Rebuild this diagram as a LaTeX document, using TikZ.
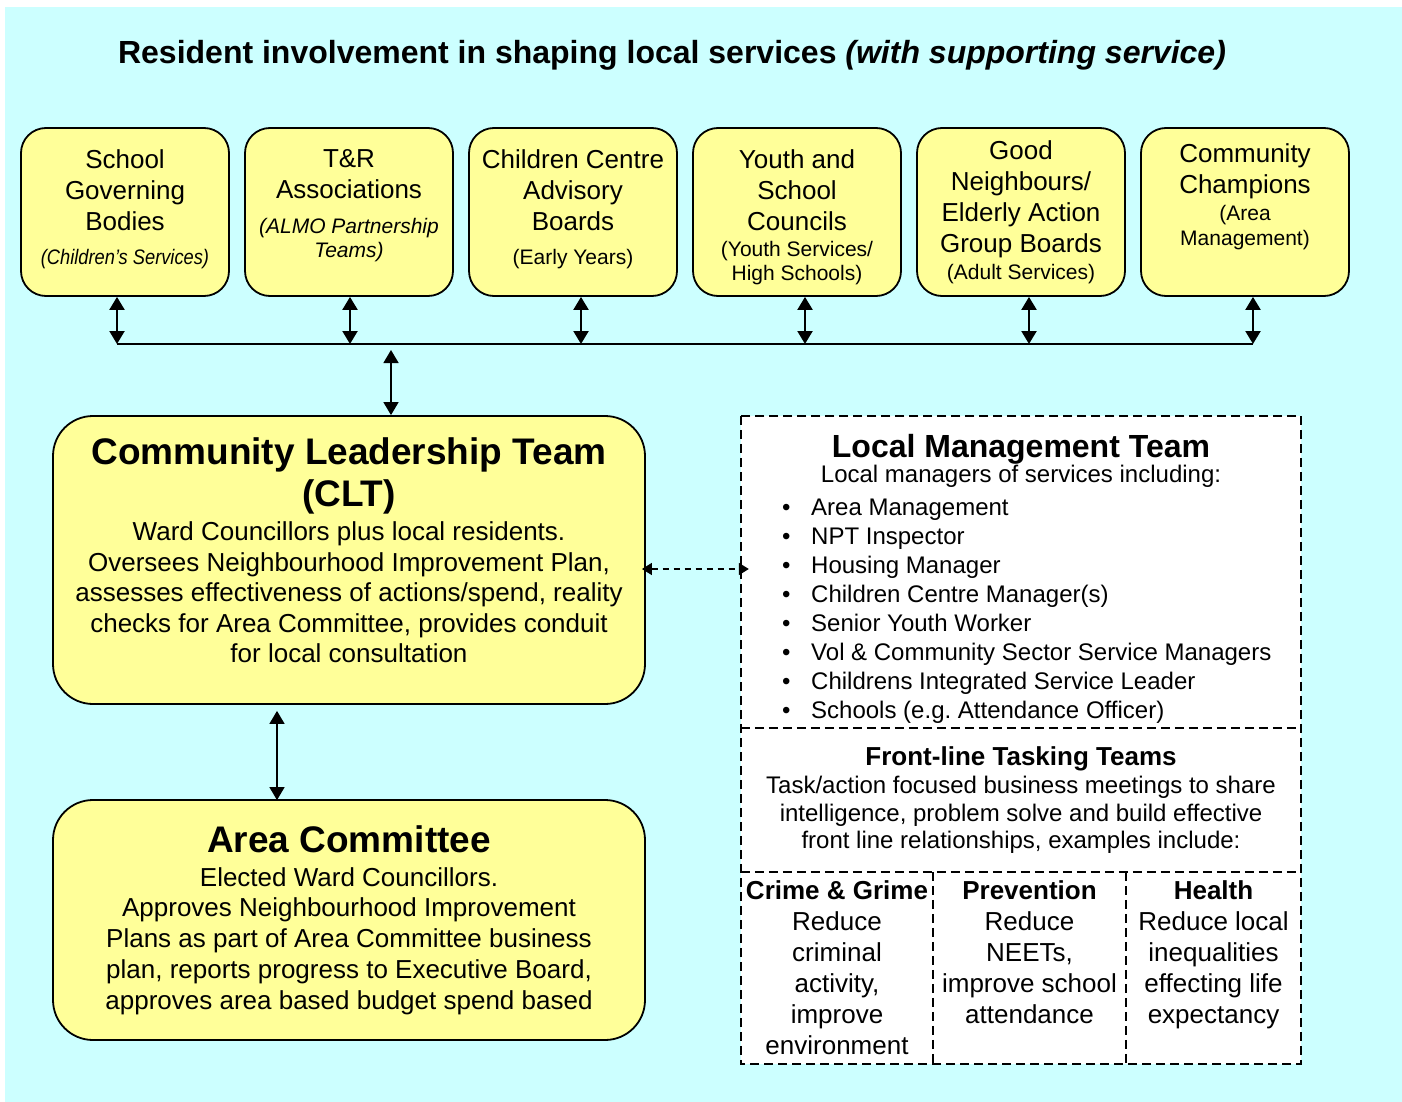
\documentclass[tikz,border=0pt]{standalone}
\usepackage{fontspec}
\setmainfont{Liberation Sans}
\newfontfamily\narrowfont[FakeStretch=0.87]{Liberation Sans}
\usepackage{tikz}
\usetikzlibrary{arrows.meta,positioning}
\definecolor{skyback}{RGB}{204,255,255}
\definecolor{boxyellow}{RGB}{255,255,153}
\frenchspacing
\newcommand{\subtxt}{\fontsize{21}{24}\selectfont}
\newcommand{\boxnote}[2][0pt]{\par\vspace{#1}{\subtxt #2\par}}
\newcommand{\lmtitem}[1]{\makebox[29pt][l]{\textbullet}#1}
\newcommand{\plainspace}{\spaceskip=0pt\relax\xspaceskip=0pt\relax}
\newcommand{\centertext}{\centering\plainspace}

\begin{document}
\begin{tikzpicture}[x=1pt,y=-1pt,
  group/.style={draw,line width=1.8pt,fill=boxyellow,rounded corners=25pt,minimum width=208pt,minimum height=168pt,inner sep=0pt,text width=204pt,execute at begin node=\centertext,font=\fontsize{26}{31}\selectfont},
  council/.style={draw,line width=1.8pt,fill=boxyellow,rounded corners=40pt,minimum width=592pt,inner sep=0pt,text width=580pt,execute at begin node=\centertext,font=\fontsize{26}{30.5}\selectfont},
  panel/.style={fill=white,inner sep=0pt},
  coltext/.style={anchor=north,inner sep=0pt,align=center,execute at begin node=\plainspace,font=\fontsize{26}{31}\selectfont},
  grid/.style={line width=2pt,dash pattern=on 9pt off 5pt},
  link/.style={line width=2.2pt,{Triangle[length=13pt,width=15pt]}-{Triangle[length=13pt,width=15pt]}},
  biglink/.style={line width=1.5pt,{Triangle[length=13pt,width=15pt]}-{Triangle[length=13pt,width=15pt]}},
  dashlink/.style={line width=1.5pt,dash pattern=on 6pt off 5pt,{Triangle[length=10pt,width=12pt]}-{Triangle[length=10pt,width=12pt]}}]

  \useasboundingbox (0,0) rectangle (1402,1102);
  \fill[white] (0,0) rectangle (1402,1102);
  \fill[skyback] (5,7) rectangle (1402,1102);

  \node[font=\bfseries\fontsize{32}{36}\selectfont] (title) at (672,55)
    {Resident involvement in shaping local services \textit{(with supporting service)}};

  % resident groups
  \node[group,text depth=106pt] (sgb) at (125,212) {School\\Governing\\Bodies\boxnote[10pt]{\narrowfont\itshape (Children’s Services)}};
  \node[group,text depth=106pt] (tra) at (349,212) {T\&R\\Associations\boxnote[11pt]{\itshape (ALMO Partnership\\Teams)}};
  \node[group,text depth=106pt] (ccab) at (573,212) {Children Centre\\Advisory\\Boards\boxnote[10pt]{(Early Years)}};
  \node[group] (ysc) at (797,212) {\rule{0pt}{29pt}Youth and\\School\\Councils\boxnote[2pt]{(Youth Services/\\High Schools)}};
  \node[group] (gnb) at (1021,212) {Good\\Neighbours/\\Elderly Action\\Group Boards\boxnote[3pt]{(Adult Services)}};
  \node[group,text depth=118pt] (cch) at (1245,212) {Community\\Champions\boxnote[2pt]{\fontsize{21}{25}\selectfont(Area\\Management)}};

  \coordinate (b1) at (117,344);
  \coordinate (b2) at (350,344);
  \coordinate (b3) at (581,344);
  \coordinate (b4) at (805,344);
  \coordinate (b5) at (1029,344);
  \coordinate (b6) at (1253,344);
  \foreach \b/\n in {b1/sgb,b2/tra,b3/ccab,b4/ysc,b5/gnb,b6/cch}
    \draw[link] (\b |- \n.south) -- (\b);
  \draw[line width=1.6pt] (b1) -- (b6);

  % councillors
  \node[council,minimum height=288pt,text depth=218pt] (clt) at (349,560)
    {{\bfseries\fontsize{37}{42}\selectfont Community Leadership Team\\(CLT)\par}\vspace{4pt}%
     Ward Councillors plus local residents.\\Oversees Neighbourhood Improvement Plan,\\assesses effectiveness of actions/spend, reality\\checks for Area Committee, provides conduit\\for local consultation};
  \node[council,minimum height=240pt,font=\fontsize{26}{30.75}\selectfont] (ac) at (349,920)
    {{\bfseries\fontsize{37}{42}\selectfont Area Committee\par}\vspace{3pt}%
     Elected Ward Councillors.\\Approves Neighbourhood Improvement\\Plans as part of Area Committee business\\plan, reports progress to Executive Board,\\approves area based budget spend based};

  \coordinate (bc) at (391,350);
  \draw[biglink] (bc) -- (bc |- clt.north);
  \draw[biglink] ([shift={(-72,6)}]clt.south) -- ([shift={(-72,1)}]ac.north);

  % officers
  \node[panel,minimum width=560pt,minimum height=312pt] (lmt) at (1021,572) {};
  \node[panel,minimum width=560pt,minimum height=144pt,text width=550pt,execute at begin node=\centertext,font=\fontsize{24}{27.5}\selectfont] (ftt) at (1021,800)
    {{\bfseries\fontsize{26}{30}\selectfont Front-line Tasking Teams\par}\vspace{1pt}%
     Task/action focused business meetings to share\\intelligence, problem solve and build effective\\front line relationships, examples include:};
  \node[panel,minimum width=192pt,minimum height=192pt] (crime) at (837,968) {};
  \node[panel,minimum width=193pt,minimum height=192pt] (prev) at (1029.5,968) {};
  \node[panel,minimum width=175pt,minimum height=192pt] (health) at (1213.5,968) {};

  \node[text width=550pt,execute at begin node=\centertext,inner sep=0pt] (lmthead) at (1021,461)
    {{\bfseries\fontsize{32}{36}\selectfont Local Management Team\par}\fontsize{24}{30}\selectfont Local managers of services including:};
  \node[anchor=west,align=left,inner sep=0pt,execute at begin node=\plainspace,font=\fontsize{24}{29}\selectfont] (lmtlist) at (782,611)
    {\lmtitem{Area Management}\\\lmtitem{NPT Inspector}\\\lmtitem{Housing Manager}\\\lmtitem{Children Centre Manager(s)}\\
     \lmtitem{Senior Youth Worker}\\\lmtitem{Vol \& Community Sector Service Managers}\\\lmtitem{Childrens Integrated Service Leader}\\
     \lmtitem{Schools (e.g. Attendance Officer)}};

  \node[coltext] (crimetxt) at ([shift={(0,8.5)}]crime.north) {\textbf{Crime \& Grime}\\Reduce\\criminal\\activity,\\improve\\environment};
  \node[coltext] (prevtxt) at ([shift={(0,8.5)}]prev.north) {\textbf{Prevention}\\Reduce\\NEETs,\\improve school\\attendance};
  \node[coltext] (healthtxt) at ([shift={(0,8.5)}]health.north) {\textbf{Health}\\Reduce local\\inequalities\\effecting life\\expectancy};

  \draw[grid] (lmt.north west) rectangle (health.south east);
  \draw[grid] (lmt.south west) -- (lmt.south east);
  \draw[grid] (ftt.south west) -- (ftt.south east);
  \draw[grid] (crime.north east) -- (crime.south east);
  \draw[grid] (prev.north east) -- (prev.south east);

  \draw[dashlink] ([shift={(-4,9)}]clt.east) -- ([shift={(8,-3)}]lmt.west);
\end{tikzpicture}
\end{document}
